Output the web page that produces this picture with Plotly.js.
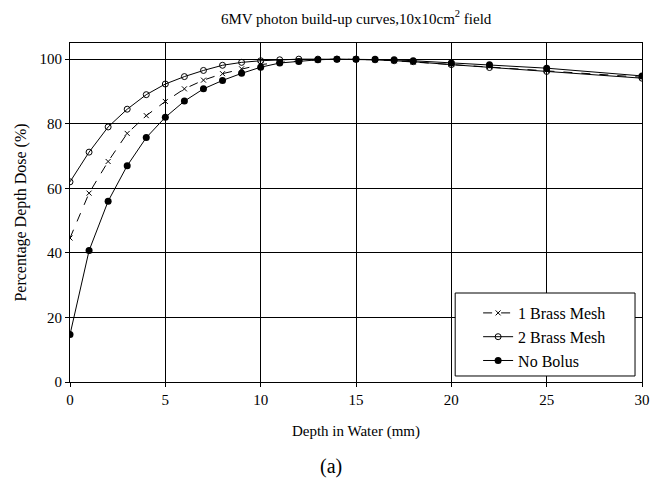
<!DOCTYPE html>
<html>
<head>
<meta charset="utf-8">
<script src="https://cdn.plot.ly/plotly-3.0.1.min.js"></script>
<style>html,body{margin:0;padding:0;background:#fff;}#chart{width:662px;height:484px;}</style>
</head>
<body>
<div id="chart"></div>
<script>
var depth = [0,1,2,3,4,5,6,7,8,9,10,11,12,13,14,15,16,17,18,20,22,25,30];
var oneBrassMesh = [44.6,58.5,68.3,77.0,82.5,86.9,90.8,93.5,95.5,97.0,98.3,99.0,99.5,99.8,100,100,99.8,99.5,99.1,98.5,97.7,96.5,94.4];
var twoBrassMesh = [62.0,71.2,79.0,84.5,89.0,92.3,94.6,96.5,98.1,99.0,99.5,99.8,100,100,100,100,99.8,99.5,99.2,98.3,97.4,96.2,94.1];
var noBolus = [14.7,40.7,56.0,67.0,75.7,82.0,87.0,90.8,93.4,95.6,97.5,98.8,99.3,99.8,100,100,100,99.8,99.5,98.8,98.3,97.2,94.8];
var seriesNames = ["1 Brass Mesh","2 Brass Mesh","No Bolus"];
var xTicks = [0,5,10,15,20,25,30];
var yTicks = [0,20,40,60,80,100];

var serif = '"Liberation Serif", "Times New Roman", Times, serif';
var traces = [
  {x: depth, y: oneBrassMesh, name: seriesNames[0], mode: "lines+markers", legendgroup: "a",
   line: {color: "#000", width: 1, dash: "dash"},
   marker: {symbol: "x-thin-open", size: 5, color: "#000", line: {color: "#000", width: 1}}},
  {x: depth, y: twoBrassMesh, name: seriesNames[1], mode: "lines+markers", legendgroup: "b",
   line: {color: "#000", width: 1},
   marker: {symbol: "circle-open", size: 6, color: "#000", line: {color: "#000", width: 1}}},
  {x: depth, y: noBolus, name: seriesNames[2], mode: "lines+markers", legendgroup: "c",
   line: {color: "#000", width: 1},
   marker: {symbol: "circle", size: 7, color: "#000"}}
];

var layout = {
  width: 662, height: 484,
  margin: {l: 69.5, r: 20, t: 43, b: 102, pad: 0},
  paper_bgcolor: "#fff", plot_bgcolor: "#fff",
  font: {family: serif, size: 15, color: "#000"},
  title: {text: "6MV photon build-up curves,10x10cm<sup>2</sup> field", font: {family: serif, size: 15, color: "#000"},
          x: 0.538, xanchor: "center", y: 0.962, yanchor: "middle"},
  xaxis: {range: [0, 30], tickvals: xTicks, ticktext: xTicks.map(String), showgrid: true, gridcolor: "#000", gridwidth: 1,
          showline: true, linecolor: "#000", linewidth: 1, mirror: true, ticks: "outside", ticklen: 4, tickcolor: "#000",
          zeroline: false, tickfont: {family: serif, size: 15, color: "#000"},
          title: {text: "Depth in Water (mm)", font: {family: serif, size: 15, color: "#000"}, standoff: 18}},
  yaxis: {range: [0, 105], tickvals: yTicks, ticktext: yTicks.map(String), showgrid: true, gridcolor: "#000", gridwidth: 1,
          showline: true, linecolor: "#000", linewidth: 1, mirror: true, ticks: "outside", ticklen: 4, tickcolor: "#000",
          zeroline: false, tickfont: {family: serif, size: 15, color: "#000"},
          title: {text: "Percentage Depth Dose (%)", font: {family: serif, size: 16, color: "#000"}, standoff: 8}},
  legend: {x: 0.7135, xanchor: "left", y: 0.2537, yanchor: "top", bgcolor: "rgba(0,0,0,0)", borderwidth: 0,
           font: {family: serif, size: 16, color: "#000"}, traceorder: "grouped", tracegroupgap: 0},
  showlegend: true,
  shapes: [{type: "rect", xref: "paper", yref: "paper", x0: 0.6734, x1: 0.9878, y0: 0.0177, y1: 0.2625,
            fillcolor: "#fff", line: {color: "#000", width: 1}, layer: "above"}],
  annotations: [{text: "(a)", xref: "paper", yref: "paper", x: 0.457, y: -0.25, xanchor: "center", yanchor: "middle",
                 showarrow: false, font: {family: serif, size: 20, color: "#000"}}]
};

Plotly.newPlot("chart", traces, layout, {staticPlot: true, displayModeBar: false});
</script>
</body>
</html>
